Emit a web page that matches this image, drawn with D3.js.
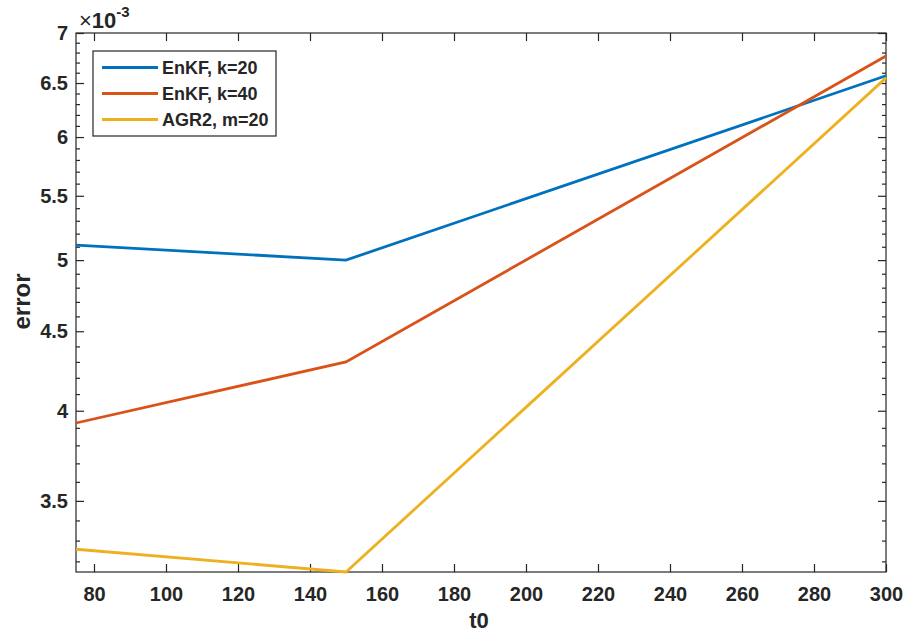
<!DOCTYPE html>
<meta charset="utf-8">
<style>
  body { margin: 0; background: #fff; }
  text { font-family: "Liberation Sans", Arial, sans-serif; font-weight: bold; fill: #262626; }
  .axis path, .axis line { stroke: #262626; stroke-width: 1.2px; }
  .axis text { font-size: 20px; font-family: "Liberation Sans", Arial, sans-serif; font-weight: bold; fill: #262626; }
  .line { fill: none; stroke-width: 2.8px; }
</style>
<body>
<svg id="svg" width="904" height="635"></svg>
<script src="https://cdn.jsdelivr.net/npm/d3@7"></script>
<script>

// data, values are in units of 1e-3
var t0 = [75, 150, 300];
var enkf20 = [5.113, 5.0, 6.57];
var enkf40 = [3.928, 4.30, 6.765];
var agr2 = [3.258, 3.15, 6.55];
var seriesNames = ["EnKF, k=20", "EnKF, k=40", "AGR2, m=20"];
var colors = ["#0072BD", "#D95319", "#EDB120"];
var xTicks = [80, 100, 120, 140, 160, 180, 200, 220, 240, 260, 280, 300];
var yTicks = [3.5, 4, 4.5, 5, 5.5, 6, 6.5, 7];
var yMinorTicks = [3.2, 3.3, 3.4, 3.6, 3.7, 3.8, 3.9, 4.1, 4.2, 4.3, 4.4, 4.6, 4.7, 4.8, 4.9,
                   5.1, 5.2, 5.3, 5.4, 5.6, 5.7, 5.8, 5.9, 6.1, 6.2, 6.3, 6.4, 6.6, 6.7, 6.8, 6.9];

var svg = d3.select("svg"),
    margin = {top: 33, right: 18, bottom: 63, left: 76},
    width = +svg.attr("width") - margin.left - margin.right,
    height = +svg.attr("height") - margin.top - margin.bottom,
    g = svg.append("g").attr("transform", "translate(" + margin.left + "," + margin.top + ")");

var x = d3.scaleLinear().domain([75, 300]).range([0, width]);
var y = d3.scaleLog().domain([3.15, 7]).range([height, 0]);

var series = [enkf20, enkf40, agr2].map(function(vals, i) {
  return {name: seriesNames[i], color: colors[i], values: t0.map(function(t, j) { return {t: t, v: vals[j]}; })};
});

// box
g.append("rect")
    .attr("width", width).attr("height", height)
    .attr("fill", "none").attr("stroke", "#262626").attr("stroke-width", 1.2);

// x axes (bottom with labels, top ticks only)
g.append("g")
    .attr("class", "axis")
    .attr("transform", "translate(0," + height + ")")
    .call(d3.axisBottom(x).tickValues(xTicks).tickSizeInner(-8).tickSizeOuter(0).tickPadding(15))
    .call(function(a) { a.attr("font-size", null).attr("font-family", null); a.select(".domain").remove(); });

g.append("g")
    .attr("class", "axis")
    .call(d3.axisTop(x).tickValues(xTicks).tickSizeInner(-8).tickSizeOuter(0).tickFormat(""))
    .call(function(a) { a.select(".domain").remove(); });

// y axes
g.append("g")
    .attr("class", "axis")
    .call(d3.axisLeft(y).tickValues(yTicks).tickSizeInner(-8).tickSizeOuter(0).tickPadding(8).tickFormat(d3.format("")))
    .call(function(a) { a.attr("font-size", null).attr("font-family", null); a.select(".domain").remove(); });

g.append("g")
    .attr("class", "axis")
    .call(d3.axisLeft(y).tickValues(yMinorTicks).tickSizeInner(-4).tickSizeOuter(0).tickFormat(""))
    .call(function(a) { a.select(".domain").remove(); });

g.append("g")
    .attr("class", "axis")
    .attr("transform", "translate(" + width + ",0)")
    .call(d3.axisRight(y).tickValues(yTicks).tickSizeInner(-8).tickSizeOuter(0).tickFormat(""))
    .call(function(a) { a.select(".domain").remove(); });

g.append("g")
    .attr("class", "axis")
    .attr("transform", "translate(" + width + ",0)")
    .call(d3.axisRight(y).tickValues(yMinorTicks).tickSizeInner(-4).tickSizeOuter(0).tickFormat(""))
    .call(function(a) { a.select(".domain").remove(); });

// lines
var line = d3.line()
    .x(function(d) { return x(d.t); })
    .y(function(d) { return y(d.v); });

g.selectAll(".line")
  .data(series)
  .enter().append("path")
    .attr("class", "line")
    .attr("d", function(d) { return line(d.values); })
    .style("stroke", function(d) { return d.color; });

// exponent label
var expo = svg.append("text")
    .attr("x", 79).attr("y", 28)
    .style("font-size", "22px");
expo.append("tspan").style("font-weight", "normal").text("\u00d7");
expo.append("tspan").text("10");
expo.append("tspan").attr("dy", -11).style("font-size", "15px").text("-3");

// axis labels
svg.append("text")
    .attr("x", margin.left + width / 2 - 2).attr("y", 628)
    .attr("text-anchor", "middle")
    .style("font-size", "22px")
    .text("t0");

svg.append("text")
    .attr("transform", "translate(30," + (margin.top + height / 2 - 1) + ") rotate(-90)")
    .attr("text-anchor", "middle")
    .style("font-size", "24px")
    .text("error");

// legend
var legend = svg.append("g").attr("transform", "translate(93,51)");
legend.append("rect")
    .attr("width", 183).attr("height", 85)
    .attr("fill", "#fff").attr("stroke", "#262626").attr("stroke-width", 1.2);

var item = legend.selectAll(".item")
  .data(series)
  .enter().append("g")
    .attr("class", "item")
    .attr("transform", function(d, i) { return "translate(0," + (16.5 + i * 26) + ")"; });

item.append("line")
    .attr("x1", 9).attr("x2", 65)
    .attr("stroke-width", 2.8)
    .attr("stroke", function(d) { return d.color; });

item.append("text")
    .attr("x", 69).attr("dy", "0.36em")
    .style("font-size", "18px")
    .text(function(d) { return d.name; });

</script>
</body>
